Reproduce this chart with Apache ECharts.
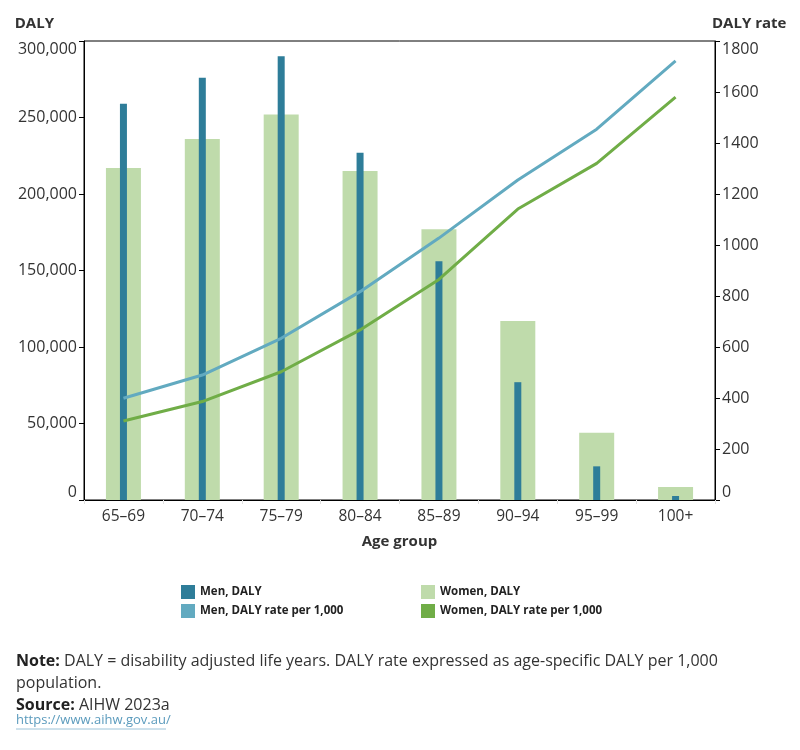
<!doctype html>
<html>
    <head>
        <meta charset="utf-8">
        <title>DALY by age group</title>
        <style>
            html, body { margin: 0; padding: 0; background: #fff; }
            #main { width: 800px; height: 750px; }
        </style>
    </head>
    <body>
        <div id="main"></div>
        <script src="https://cdn.jsdelivr.net/npm/echarts@6/dist/echarts.min.js"></script>
        <script>
            var ageGroups = ['65–69', '70–74', '75–79', '80–84', '85–89', '90–94', '95–99', '100+'];
            var menDaly = [259000, 276000, 290000, 227000, 156000, 77000, 22000, 2600];
            var womenDaly = [217000, 236000, 252000, 215000, 177000, 117000, 44000, 8500];
            var menRate = [399, 490, 634, 817, 1027, 1255, 1454, 1722];
            var womenRate = [310, 386, 503, 667, 865, 1141, 1320, 1580];

            var font = '"Open Sans", sans-serif';
            var chart = echarts.init(document.getElementById('main'));

            var legendText = { fontSize: 11.5, fontWeight: 'bold', color: '#222', fontFamily: font };

            chart.setOption({
                backgroundColor: '#fff',
                textStyle: { fontFamily: font },
                grid: {
                    left: 84, right: 85, top: 41, bottom: 250,
                    show: true, borderColor: '#000', borderWidth: 1
                },
                legend: [{
                    data: ['Men, DALY', 'Men, DALY rate per 1,000'],
                    orient: 'vertical', left: 181, top: 585, padding: 0,
                    itemWidth: 14, itemHeight: 14, itemGap: 5, icon: 'rect',
                    textStyle: legendText
                }, {
                    data: ['Women, DALY', 'Women, DALY rate per 1,000'],
                    orient: 'vertical', left: 421, top: 585, padding: 0,
                    itemWidth: 14, itemHeight: 14, itemGap: 5, icon: 'rect',
                    textStyle: legendText
                }],
                xAxis: [{
                    type: 'category',
                    data: ageGroups,
                    name: 'Age group',
                    nameLocation: 'middle',
                    nameGap: 34,
                    nameTextStyle: { fontSize: 15, fontWeight: 'bold', color: '#333' },
                    axisLine: { lineStyle: { color: '#000' } },
                    axisTick: { show: true, length: 4, lineStyle: { color: '#e0e0e0' } },
                    axisLabel: { fontSize: 15.5, color: '#333', margin: 9 }
                }, {
                    type: 'category',
                    data: ageGroups,
                    show: false
                }],
                yAxis: [{
                    type: 'value',
                    min: 0, max: 300000, interval: 50000,
                    name: 'DALY',
                    nameLocation: 'end',
                    nameGap: 10,
                    nameTextStyle: { fontSize: 15, fontWeight: 'bold', color: '#333', align: 'right', padding: [0, 30, 0, 0] },
                    axisLine: { show: true, lineStyle: { color: '#000' } },
                    axisTick: { show: true, length: 5, lineStyle: { color: '#000' } },
                    splitLine: { show: false },
                    axisLabel: {
                        fontSize: 16, color: '#333', margin: 7,
                        verticalAlignMaxLabel: 'top', verticalAlignMinLabel: 'bottom',
                        formatter: function (v) { return v.toLocaleString('en-US'); }
                    }
                }, {
                    type: 'value',
                    min: 0, max: 1800, interval: 200,
                    name: 'DALY rate',
                    nameLocation: 'end',
                    nameGap: 10,
                    nameTextStyle: { fontSize: 15, fontWeight: 'bold', color: '#333', align: 'left', padding: [0, 0, 0, -3] },
                    axisLine: { show: true, lineStyle: { color: '#000' } },
                    axisTick: { show: true, length: 5, lineStyle: { color: '#000' } },
                    splitLine: { show: false },
                    axisLabel: {
                        fontSize: 16, color: '#333', margin: 7,
                        verticalAlignMaxLabel: 'top', verticalAlignMinLabel: 'bottom',
                        formatter: function (v) { return String(v); }
                    }
                }],
                series: [{
                    name: 'Women, DALY',
                    type: 'bar',
                    xAxisIndex: 0, yAxisIndex: 0,
                    barWidth: 35,
                    itemStyle: { color: '#bfdbab' },
                    data: womenDaly
                }, {
                    name: 'Men, DALY',
                    type: 'bar',
                    xAxisIndex: 1, yAxisIndex: 0,
                    barWidth: 7,
                    itemStyle: { color: '#2e7d99' },
                    data: menDaly
                }, {
                    name: 'Men, DALY rate per 1,000',
                    type: 'line',
                    xAxisIndex: 0, yAxisIndex: 1,
                    showSymbol: false,
                    lineStyle: { width: 3, color: '#62aac0' },
                    itemStyle: { color: '#62aac0' },
                    data: menRate
                }, {
                    name: 'Women, DALY rate per 1,000',
                    type: 'line',
                    xAxisIndex: 0, yAxisIndex: 1,
                    showSymbol: false,
                    lineStyle: { width: 3, color: '#70ad47' },
                    itemStyle: { color: '#70ad47' },
                    data: womenRate
                }],
                graphic: [{
                    type: 'text',
                    left: 16, top: 650,
                    style: {
                        text: '{b|Note:} DALY = disability adjusted life years. DALY rate expressed as age-specific DALY per 1,000\npopulation.\n{b|Source:} AIHW 2023a',
                        font: '16px ' + font,
                        fill: '#333',
                        lineHeight: 22,
                        rich: {
                            b: { fontWeight: 'bold', fontSize: 16, fontFamily: font, fill: '#222', lineHeight: 22 }
                        }
                    }
                }, {
                    type: 'text',
                    left: 16, top: 714,
                    style: {
                        text: 'https://www.aihw.gov.au/',
                        font: '13px ' + font,
                        fill: '#5b9bbd'
                    }
                }, {
                    type: 'line',
                    shape: { x1: 16, y1: 729, x2: 166, y2: 729 },
                    style: { stroke: '#9cc3d8', lineWidth: 1 }
                }]
            });

            window.addEventListener('resize', function () {
                chart.resize();
            });
        </script>
    </body>
</html>
